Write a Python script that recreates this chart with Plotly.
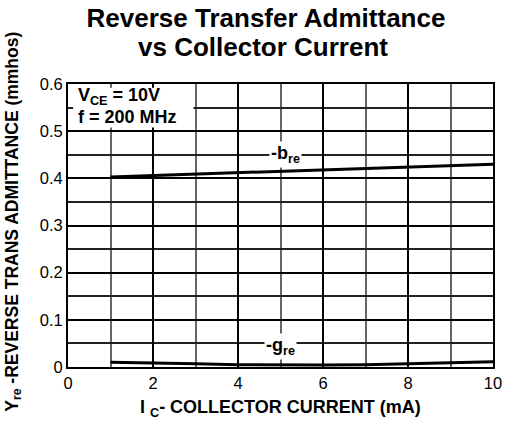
import plotly.graph_objects as go

# Data
ic_ma = [1, 2, 3, 4, 5, 6, 7, 8, 9, 10]
b_re = [0.403, 0.406, 0.409, 0.412, 0.415, 0.418, 0.421, 0.424, 0.427, 0.430]
g_re = [0.010, 0.009, 0.007, 0.005, 0.004, 0.004, 0.005, 0.007, 0.009, 0.011]

x_ticks = [0, 2, 4, 6, 8, 10]
y_ticks = [0, 0.1, 0.2, 0.3, 0.4, 0.5, 0.6]
y_tick_text = ["0", "0.1", "0.2", "0.3", "0.4", "0.5", "0.6"]

FONT = "Liberation Sans, Arial, sans-serif"
W, H = 514, 427

fig = go.Figure()
fig.add_trace(go.Scatter(x=ic_ma, y=b_re, mode="lines",
                         line=dict(color="black", width=3), name="-b_re",
                         showlegend=False))
fig.add_trace(go.Scatter(x=ic_ma, y=g_re, mode="lines",
                         line=dict(color="black", width=3), name="-g_re",
                         showlegend=False))

fig.update_layout(
    width=W, height=H,
    margin=dict(l=68, r=15, t=84, b=60),
    paper_bgcolor="white", plot_bgcolor="white",
    font=dict(family=FONT, color="black", size=16),
    title=dict(text="<b>Reverse Transfer Admittance</b>",
               x=266 / W, xanchor="center", xref="container",
               y=1 - 18 / H, yanchor="middle", yref="container",
               font=dict(family=FONT, size=26, color="black")),
    xaxis=dict(range=[0, 10], tickvals=x_ticks, ticks="", showline=True,
               linecolor="black", linewidth=2, mirror=True,
               showgrid=True, gridcolor="black", gridwidth=1.5, zeroline=False,
               minor=dict(dtick=1, showgrid=True, gridcolor="#666666", gridwidth=1.5),
               tickfont=dict(size=16.5), fixedrange=True),
    yaxis=dict(range=[0, 0.6], tickvals=y_ticks, ticktext=y_tick_text, ticks="",
               showline=True, linecolor="black", linewidth=2, mirror=True,
               showgrid=True, gridcolor="black", gridwidth=1.5, zeroline=False,
               minor=dict(dtick=0.05, showgrid=True, gridcolor="#222222", gridwidth=1.5),
               tickfont=dict(size=16.5), fixedrange=True),
)

# second title line
fig.add_annotation(xref="paper", yref="paper", x=(266 - 68) / (W - 83),
                   y=1 + (84 - 47) / (H - 144), xanchor="center", yanchor="middle",
                   text="<b>vs Collector Current</b>", showarrow=False,
                   font=dict(size=26))

# white box behind the condition text
fig.add_shape(type="rect", xref="x", yref="y", x0=0.12, x1=2.95, y0=0.508, y1=0.592,
              fillcolor="white", line=dict(width=0), layer="above")

fig.add_annotation(xref="x", yref="y", x=0.18, y=0.574, xanchor="left", yanchor="middle",
                   text="<b>V<sub>CE</sub> = 10V</b>", showarrow=False,
                   font=dict(size=18))
fig.add_annotation(xref="x", yref="y", x=0.18, y=0.529, xanchor="left", yanchor="middle",
                   text="<b>f = 200 MHz</b>", showarrow=False,
                   font=dict(size=18))

# curve labels
fig.add_annotation(xref="x", yref="y", x=5.12, y=0.45, text="<b>-b<sub>re</sub></b>",
                   showarrow=False, bgcolor="white", font=dict(size=18))
fig.add_annotation(xref="x", yref="y", x=5.0, y=0.043, text="<b>-g<sub>re</sub></b>",
                   showarrow=False, bgcolor="white", font=dict(size=18))

# axis titles
fig.add_annotation(xref="paper", yref="paper", x=(283 - 68) / (W - 83),
                   y=-(408 - 367) / (H - 144), xanchor="center", yanchor="middle",
                   text="<b>I <sub>C</sub>- COLLECTOR CURRENT (mA)</b>", showarrow=False,
                   font=dict(size=18))
fig.add_annotation(xref="paper", yref="paper", x=-(68 - 12) / (W - 83),
                   y=(367 - 222) / (H - 144), xanchor="center", yanchor="middle",
                   textangle=-90,
                   text="<b>Y<sub>re</sub> -REVERSE TRANS ADMITTANCE (mmhos)</b>",
                   showarrow=False, font=dict(size=17.5))

fig.write_html("out.html",
               config={"displayModeBar": False},
               post_script="document.body.style.margin='0';document.body.style.overflow='hidden';")
